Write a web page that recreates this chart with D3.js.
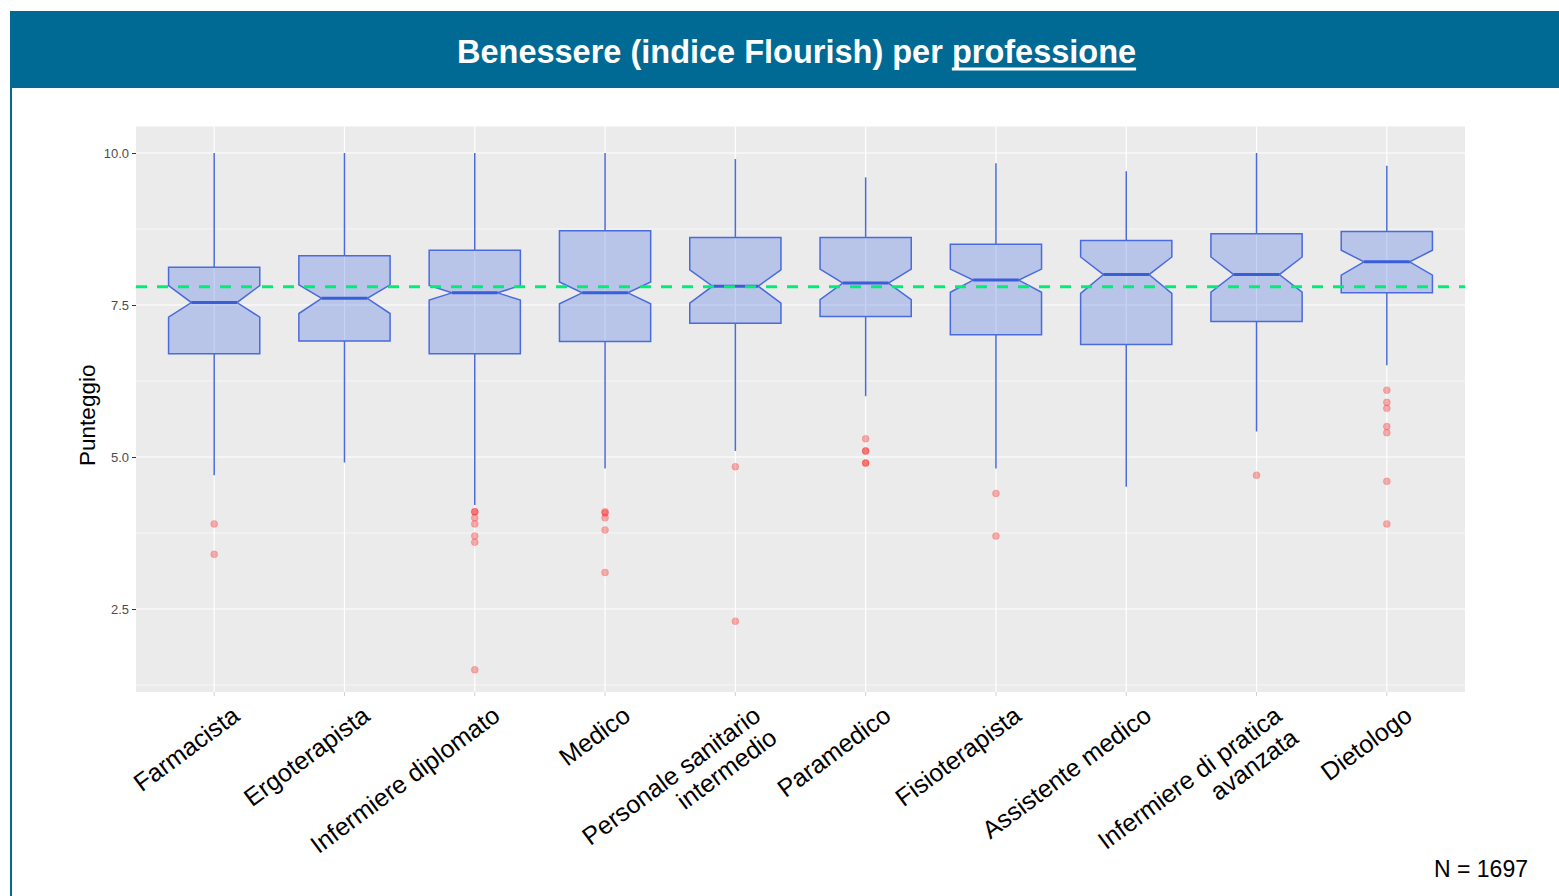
<!DOCTYPE html>
<html>
<head>
<meta charset="utf-8">
<script src="https://cdn.jsdelivr.net/npm/d3@7"></script>
<style>
  body { margin: 0; background: #fff; }
  svg { display: block; font-family: "Liberation Sans", Arial, sans-serif; }
</style>
</head>
<body>
<div class="chart"></div>
<script>
// professions, left to right
const categories = [
  'Farmacista', 'Ergoterapista', 'Infermiere diplomato', 'Medico',
  'Personale sanitario\nintermedio', 'Paramedico', 'Fisioterapista',
  'Assistente medico', 'Infermiere di pratica\navanzata', 'Dietologo'
];

// box stats
const q3         = [8.12, 8.31, 8.40, 8.72, 8.61, 8.61, 8.50, 8.56, 8.67, 8.71];
const notchUpper = [7.82, 7.83, 7.82, 7.88, 8.08, 8.09, 8.09, 8.29, 8.29, 8.40];
const medians    = [7.54, 7.61, 7.70, 7.70, 7.81, 7.86, 7.91, 8.00, 8.00, 8.21];
const notchLower = [7.30, 7.36, 7.58, 7.52, 7.53, 7.59, 7.71, 7.69, 7.71, 7.99];
const q1         = [6.70, 6.91, 6.70, 6.90, 7.20, 7.31, 7.01, 6.85, 7.23, 7.70];
const whiskerHigh = [10, 10, 10, 10, 9.90, 9.60, 9.83, 9.70, 10, 9.79];
const whiskerLow  = [4.70, 4.91, 4.21, 4.81, 5.10, 6.00, 4.81, 4.51, 5.42, 6.51];
const outliers = [
  [3.9, 3.4],
  [],
  [4.1, 4.1, 4.0, 3.9, 3.7, 3.6, 1.5],
  [4.1, 4.08, 4.0, 3.8, 3.1],
  [4.84, 2.3],
  [5.3, 5.1, 5.1, 4.9, 4.9],
  [4.4, 3.7],
  [],
  [4.7],
  [6.1, 5.9, 5.8, 5.5, 5.4, 4.6, 3.9]
];
const overallMedian = 7.8;
const yTicks = [2.5, 5.0, 7.5, 10.0];
const yMinor = [1.25, 3.75, 6.25, 8.75];
const sampleSize = 1697;

const width = 1559, height = 896;
const panel = { left: 136, right: 1465, top: 126.5, bottom: 692 };

const svg = d3.select('div.chart').append('svg')
  .attr('width', width)
  .attr('height', height);

// header band
svg.append('rect')
  .attr('x', 10).attr('y', 11)
  .attr('width', width - 10).attr('height', 77)
  .attr('fill', '#006994');
svg.append('line')
  .attr('x1', 11).attr('x2', 11)
  .attr('y1', 88).attr('y2', height)
  .attr('stroke', '#006994').attr('stroke-width', 2);

const title = svg.append('text')
  .attr('x', 457).attr('y', 63)
  .attr('fill', '#fff')
  .attr('font-size', 32.5)
  .attr('font-weight', 'bold');
title.append('tspan').text('Benessere (indice Flourish) per ');
title.append('tspan').text('professione');

// underline under the last word
const tNode = title.node();
const startIdx = 'Benessere (indice Flourish) per '.length;
const ux = tNode.getStartPositionOfChar(startIdx).x;
const uw = tNode.getSubStringLength(startIdx, 'professione'.length);
svg.append('line')
  .attr('x1', ux).attr('x2', ux + uw)
  .attr('y1', 69).attr('y2', 69)
  .attr('stroke', '#fff').attr('stroke-width', 3);

// scales
const x = d3.scalePoint()
  .domain(categories)
  .range([panel.left, panel.right])
  .padding(0.6);
const y = d3.scaleLinear()
  .domain([1.135, 10.436])
  .range([panel.bottom, panel.top]);

const boxW = x.step() * 0.7;

// panel background and grid
svg.append('rect')
  .attr('x', panel.left).attr('y', panel.top)
  .attr('width', panel.right - panel.left)
  .attr('height', panel.bottom - panel.top)
  .attr('fill', '#EBEBEB');

svg.append('g').selectAll('line')
  .data(yMinor)
  .join('line')
    .attr('x1', panel.left).attr('x2', panel.right)
    .attr('y1', d => y(d)).attr('y2', d => y(d))
    .attr('stroke', '#fff').attr('stroke-width', 0.6);

svg.append('g').selectAll('line')
  .data(yTicks)
  .join('line')
    .attr('x1', panel.left).attr('x2', panel.right)
    .attr('y1', d => y(d)).attr('y2', d => y(d))
    .attr('stroke', '#fff').attr('stroke-width', 1.2);

svg.append('g').selectAll('line')
  .data(categories)
  .join('line')
    .attr('x1', d => x(d)).attr('x2', d => x(d))
    .attr('y1', panel.top).attr('y2', panel.bottom)
    .attr('stroke', '#fff').attr('stroke-width', 1.2);

// y axis
const yAxis = d3.axisLeft(y)
  .tickValues(yTicks)
  .tickFormat(d3.format('.1f'))
  .tickSize(4)
  .tickPadding(3);
const yG = svg.append('g')
  .attr('transform', `translate(${panel.left},0)`)
  .call(yAxis);
yG.select('.domain').remove();
yG.selectAll('line').attr('stroke', '#333');
yG.selectAll('text')
  .attr('fill', '#4D4D4D')
  .attr('font-size', 13)
  .attr('font-family', '"Liberation Sans", Arial, sans-serif');

svg.append('text')
  .attr('transform', `translate(95,${(panel.top + panel.bottom) / 2 + 6}) rotate(-90)`)
  .attr('text-anchor', 'middle')
  .attr('font-size', 22.5)
  .attr('fill', '#000')
  .text('Punteggio');

// x ticks (faint in the original)
svg.append('g').selectAll('line')
  .data(categories)
  .join('line')
    .attr('x1', d => x(d)).attr('x2', d => x(d))
    .attr('y1', panel.bottom).attr('y2', panel.bottom + 4)
    .attr('stroke', '#d0d0d0').attr('stroke-width', 1);

// x labels, rotated
const xl = svg.append('g').selectAll('text')
  .data(categories)
  .join('text')
    .attr('transform', d => `translate(${x(d) + 27},719) rotate(-36.5)`)
    .attr('text-anchor', 'end')
    .attr('font-size', 25)
    .attr('fill', '#000');
xl.each(function(d) {
  const lines = d.split('\n');
  d3.select(this).selectAll('tspan')
    .data(lines)
    .join('tspan')
      .attr('x', 0)
      .attr('dy', (l, i) => i === 0 ? 0 : 27.5)
      .text(l => l);
});

// boxes
const boxes = categories.map((c, i) => ({
  cat: c, q1: q1[i], q3: q3[i], med: medians[i],
  nl: notchLower[i], nu: notchUpper[i],
  lo: whiskerLow[i], hi: whiskerHigh[i], out: outliers[i]
}));

const boxStroke = '#4A6BDB';
const plot = svg.append('g');

plot.selectAll('line.whisker-hi')
  .data(boxes)
  .join('line')
    .attr('class', 'whisker-hi')
    .attr('x1', d => x(d.cat)).attr('x2', d => x(d.cat))
    .attr('y1', d => y(d.hi)).attr('y2', d => y(d.q3))
    .attr('stroke', boxStroke).attr('stroke-width', 1.5);

plot.selectAll('line.whisker-lo')
  .data(boxes)
  .join('line')
    .attr('class', 'whisker-lo')
    .attr('x1', d => x(d.cat)).attr('x2', d => x(d.cat))
    .attr('y1', d => y(d.q1)).attr('y2', d => y(d.lo))
    .attr('stroke', boxStroke).attr('stroke-width', 1.5);

const notchPath = d => {
  const cx = x(d.cat), l = cx - boxW / 2, r = cx + boxW / 2;
  const il = cx - boxW / 4, ir = cx + boxW / 4;
  return d3.line()([
    [l, y(d.q3)], [l, y(d.nu)], [il, y(d.med)], [l, y(d.nl)], [l, y(d.q1)],
    [r, y(d.q1)], [r, y(d.nl)], [ir, y(d.med)], [r, y(d.nu)], [r, y(d.q3)]
  ]) + 'Z';
};

plot.selectAll('path.box')
  .data(boxes)
  .join('path')
    .attr('class', 'box')
    .attr('d', notchPath)
    .attr('fill', '#4169E1').attr('fill-opacity', 0.3)
    .attr('stroke', boxStroke).attr('stroke-width', 1.5)
    .attr('stroke-linejoin', 'miter');

plot.selectAll('line.median')
  .data(boxes)
  .join('line')
    .attr('class', 'median')
    .attr('x1', d => x(d.cat) - boxW / 4).attr('x2', d => x(d.cat) + boxW / 4)
    .attr('y1', d => y(d.med)).attr('y2', d => y(d.med))
    .attr('stroke', '#3A5ED8').attr('stroke-width', 3);

// outliers
plot.selectAll('g.out')
  .data(boxes)
  .join('g')
    .attr('class', 'out')
  .selectAll('circle')
  .data(d => d.out.map(v => ({ cat: d.cat, v })))
  .join('circle')
    .attr('cx', d => x(d.cat))
    .attr('cy', d => y(d.v))
    .attr('r', 3.5)
    .attr('fill', '#ff0000')
    .attr('fill-opacity', 0.3)
    .attr('stroke', '#ff0000')
    .attr('stroke-opacity', 0.15);

// overall median reference line
plot.append('line')
  .attr('x1', panel.left).attr('x2', panel.right)
  .attr('y1', y(overallMedian)).attr('y2', y(overallMedian))
  .attr('stroke', '#00EE76').attr('stroke-width', 3)
  .attr('stroke-dasharray', '11,10');

svg.append('text')
  .attr('x', 1528).attr('y', 877)
  .attr('text-anchor', 'end')
  .attr('font-size', 23)
  .attr('fill', '#000')
  .text('N = ' + sampleSize);
</script>
</body>
</html>
